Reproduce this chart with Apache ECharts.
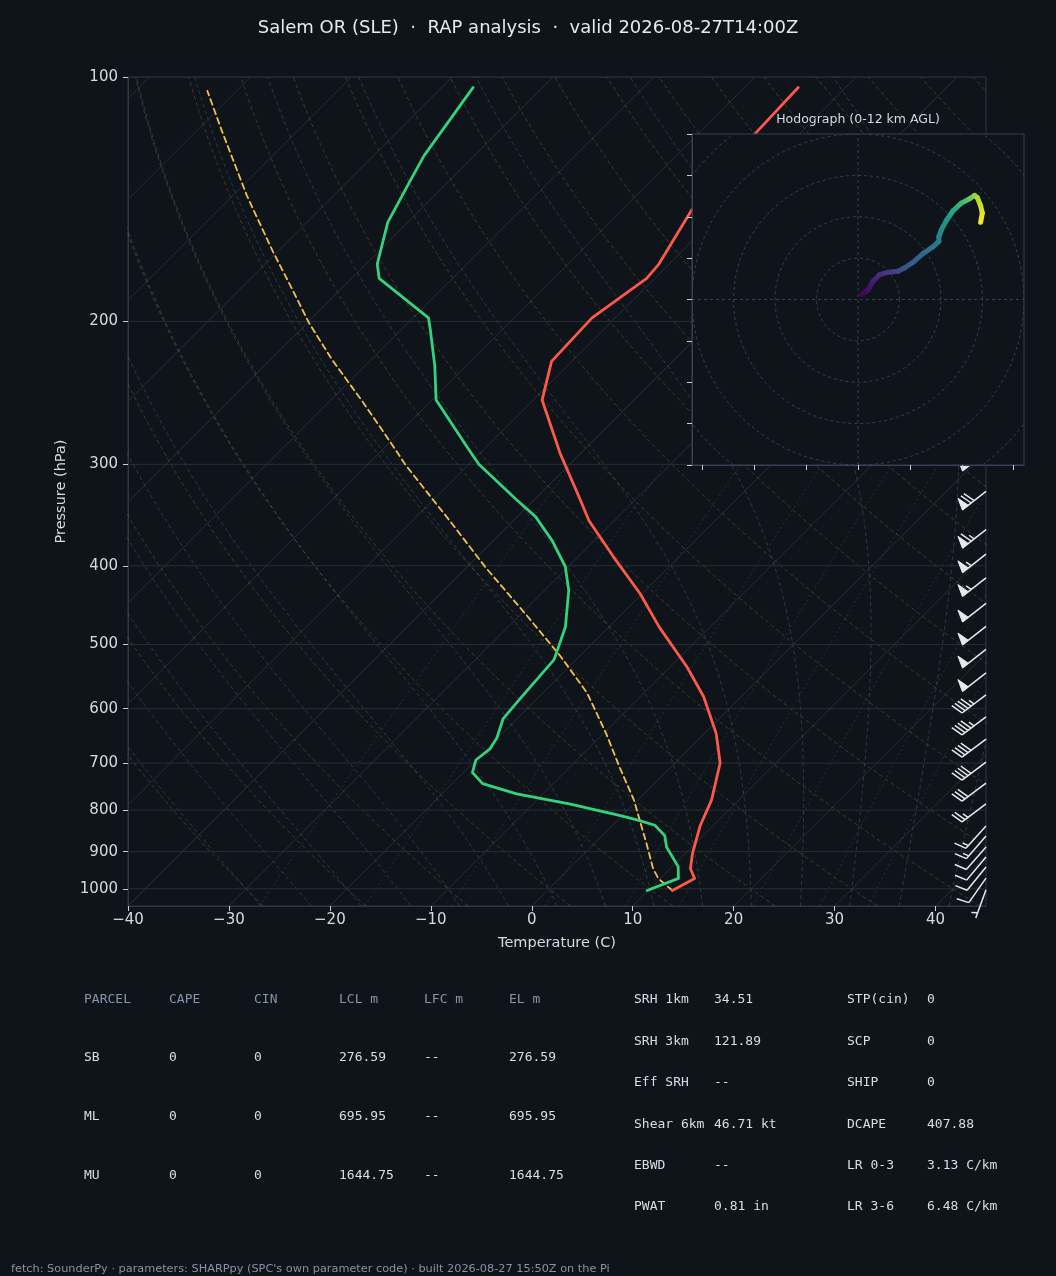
<!DOCTYPE html>
<html>
<head>
<meta charset="utf-8">
<title>Skew-T SLE</title>
<script src="https://cdn.jsdelivr.net/npm/echarts@6/dist/echarts.min.js"></script>
<style>
  html, body { margin: 0; padding: 0; background: #0f131a; }
  #chart { width: 1056px; height: 1276px; }
</style>
</head>
<body>
<div id="chart"></div>
<script>
// ---- sounding (hPa, degC) ----
const TEMP_P = [1005, 971, 944, 904, 835, 777, 700, 644, 580, 533, 476, 433, 390, 352, 332, 291, 250, 224, 198, 177, 170, 146, 130, 117, 103];
const TEMP_C = [12.4, 13.4, 12.0, 10.7, 8.7, 7.3, 4.5, 1.2, -3.7, -8.3, -15.0, -20.2, -26.5, -32.5, -35.4, -42.0, -49.1, -52.0, -52.3, -50.8, -51.0, -53.1, -53.8, -54.4, -54.7];

const DWPT_P = [1005, 971, 939, 888, 860, 835, 823, 812, 786, 764, 742, 719, 694, 673, 652, 617, 583, 522, 476, 429, 401, 373, 348, 332, 300, 286, 250, 227, 205, 198, 177, 170, 151, 135, 125, 103];
const DWPT_C = [9.9, 11.8, 10.6, 7.5, 6.2, 4.2, 2.0, -0.3, -6.4, -12.6, -17.0, -19.1, -20.0, -19.7, -20.1, -21.4, -21.7, -22.2, -24.3, -27.6, -30.3, -34.1, -38.2, -41.7, -49.0, -51.8, -59.6, -63.1, -67.1, -68.5, -77.3, -78.9, -82.0, -83.8, -85.0, -86.9];

const PARCEL_P = [1005, 971, 944, 880, 777, 709, 644, 574, 517, 459, 402, 352, 334, 301, 273, 250, 223, 201, 182, 164, 140, 116, 104];
const PARCEL_C = [12.4, 9.8, 8.3, 5.2, -0.4, -5.0, -9.7, -15.6, -21.9, -29.5, -38.1, -46.3, -49.6, -56.1, -61.8, -67.0, -73.9, -79.8, -85.0, -90.5, -98.6, -107.7, -112.9];

// wind barbs (hPa, kt, deg from)
const BARB_P = [290, 324, 361, 387, 414, 445, 475, 507, 542, 577, 614, 654, 698, 741, 786, 837, 861, 888, 914, 940, 970, 1003];
const BARB_KT = [75, 70, 65, 55, 55, 50, 50, 50, 50, 45, 45, 40, 40, 30, 25, 15, 15, 10, 10, 10, 10, 5];
const BARB_DIR = [232, 232, 232, 232, 232, 232, 232, 232, 232, 233, 233, 233, 233, 233, 233, 222, 221, 221, 220, 219, 215, 200];

// hodograph (kt, km AGL)
const HODO_U = [1.6, 4.8, 7.2, 10.4, 14.5, 19.3, 22.5, 26.5, 31.3, 36.1, 39.0, 39.0, 40.2, 42.6, 45.8, 49.8, 53.8, 56.2, 57.5, 59.1, 59.9, 59.1];
const HODO_V = [2.4, 4.5, 8.8, 12.0, 13.2, 13.7, 15.3, 18.0, 22.2, 25.4, 28.1, 30.5, 33.7, 38.2, 42.9, 46.6, 48.7, 50.3, 49.3, 45.3, 41.8, 37.3];
const HODO_Z = [0, 0.5, 1.0, 1.5, 2.0, 2.5, 3.0, 3.5, 4.0, 4.5, 4.9, 5.2, 5.6, 6.1, 7.0, 8.0, 9.0, 9.8, 10.4, 11.0, 11.5, 12.0];
const HODO_RINGS = [20, 40, 60, 80, 100];
const HODO_XTICKS = [-75, -50, -25, 0, 25, 50, 75];

// axes
const P_TICKS = [100, 200, 300, 400, 500, 600, 700, 800, 900, 1000];
const P_TOP = 100, P_BOT = 1050, T_MIN = -40, T_MAX = 45;

// parameter tables
const PARCEL_HEAD = ['PARCEL', 'CAPE', 'CIN', 'LCL m', 'LFC m', 'EL m'];
const PARCEL_ROWS = [
  ['SB', '0', '0', '276.59', '--', '276.59'],
  ['ML', '0', '0', '695.95', '--', '695.95'],
  ['MU', '0', '0', '1644.75', '--', '1644.75']
];
const INDEX_ROWS = [
  ['SRH 1km', '34.51', 'STP(cin)', '0'],
  ['SRH 3km', '121.89', 'SCP', '0'],
  ['Eff SRH', '--', 'SHIP', '0'],
  ['Shear 6km', '46.71 kt', 'DCAPE', '407.88'],
  ['EBWD', '--', 'LR 0-3', '3.13 C/km'],
  ['PWAT', '0.81 in', 'LR 3-6', '6.48 C/km']
];

const TITLE = 'Salem OR (SLE)  \u00b7  RAP analysis  \u00b7  valid 2026-08-27T14:00Z';
const FOOTER = 'fetch: SounderPy \u00b7 parameters: SHARPpy (SPC\'s own parameter code) \u00b7 built 2026-08-27 15:50Z on the Pi';

// ---- layout ----
const GRID = { left: 128, top: 77, width: 858, height: 829 };
const HGRID = { left: 692, top: 134, width: 332, height: 331 };
const BG = '#0f131a';
const TXT = '#d6dbe2';
const SANS = '"DejaVu Sans", sans-serif';
const MONO = '"DejaVu Sans Mono", monospace';

// skew so that isotherms run at 45 degrees on screen
const SKEW = (GRID.height / Math.log(P_BOT / P_TOP)) / (GRID.width / (T_MAX - T_MIN));
const pt = (t, p) => [t + SKEW * Math.log(P_BOT / p), Math.log(p)];

const chart = echarts.init(document.getElementById('chart'), null, { renderer: 'canvas' });

// background thermodynamic lines
const LEVELS = [];
for (let p = P_BOT; p >= P_TOP; p -= 10) LEVELS.push(p);

function moistRate(tk, p) {
  const es = 6.112 * Math.exp(17.67 * (tk - 273.15) / (tk - 29.65));
  const rs = 0.622 * es / (p - es);
  const Rd = 287.04, Cp = 1005.7, Lv = 2.501e6, eps = 0.622;
  return (Rd * tk + Lv * rs) / (Cp + Lv * Lv * rs * eps / (Rd * tk * tk)) / p;
}
function moistLine(t0) {
  const out = {};
  let tb = t0 + 273.15;
  for (let q = 1000; q <= P_BOT; q += 1) {
    if (q % 10 === 0) out[q] = tb - 273.15;
    const k1 = moistRate(tb, q);
    tb += moistRate(tb + k1 * 0.5, q + 0.5);
  }
  let t = t0 + 273.15;
  for (let p = 1000; p >= P_TOP; p -= 1) {
    if (p % 10 === 0) out[p] = t - 273.15;
    const k1 = moistRate(t, p);
    t -= moistRate(t - k1 * 0.5, p - 0.5);
  }
  return LEVELS.map(q => pt(out[q], q));
}

const bgSeries = [];
function bgLine(data, color, type) {
  bgSeries.push({
    type: 'line', xAxisIndex: 0, yAxisIndex: 0, data, symbol: 'none', silent: true,
    clip: true, z: 1, animation: false, lineStyle: { color, width: 1, type }
  });
}
// isotherms
for (let t = -120; t <= 40; t += 10) bgLine([pt(t, P_BOT), pt(t, P_TOP)], '#262f3a', 'solid');
// dry adiabats
for (let t0 = -30; t0 <= 200; t0 += 10) {
  bgLine(LEVELS.map(p => pt((t0 + 273.15) * Math.pow(p / 1000, 0.2857) - 273.15, p)), 'rgba(150,112,62,0.40)', [4, 3]);
}
// moist adiabats
for (let t0 = -30; t0 <= 40; t0 += 5) bgLine(moistLine(t0), 'rgba(80,130,145,0.38)', [4, 3]);
// mixing ratio lines
[0.4, 1, 2, 4, 7, 10, 16, 24, 32].forEach(w => {
  const lv = LEVELS.filter(p => p >= 300);
  bgLine(lv.map(p => {
    const e = (w / 1000) * p / (0.622 + w / 1000);
    const l = Math.log(e / 6.112);
    return pt(243.5 * l / (17.67 - l), p);
  }), 'rgba(70,120,130,0.32)', [2, 3]);
});
// pressure grid
P_TICKS.forEach(p => bgLine([[T_MIN, Math.log(p)], [T_MAX, Math.log(p)]], '#262f3a', 'solid'));

function profile(P, C, color, width, type) {
  return {
    type: 'line', xAxisIndex: 0, yAxisIndex: 0, data: P.map((p, i) => pt(C[i], p)),
    symbol: 'none', silent: true, clip: true, z: 3, animation: false, smooth: false,
    lineStyle: { color, width, type, cap: 'round', join: 'round' }
  };
}

// wind barbs, matplotlib-style (flags, full and half barbs from the far end)
function renderBarb(params, api) {
  const c = api.coord([api.value(0), api.value(1)]);
  const spd = api.value(2);
  const dir = api.value(3) * Math.PI / 180;
  const dx = Math.sin(dir), dy = -Math.cos(dir);
  const nx = -dy, ny = dx;
  const L = 30, H = 0.4 * L, W = 0.25 * L, S = 0.125 * L;
  const at = (o, h) => [c[0] + dx * o + nx * (h || 0), c[1] + dy * o + ny * (h || 0)];
  let r = Math.round(spd / 5) * 5;
  const nflag = Math.floor(r / 50); r -= nflag * 50;
  const nbarb = Math.floor(r / 10); r -= nbarb * 10;
  const half = r >= 5;
  const col = '#e6e9ee';
  const kids = [{ type: 'line', shape: { x1: c[0], y1: c[1], x2: at(L)[0], y2: at(L)[1] }, style: { stroke: col, lineWidth: 1.5 } }];
  let off = L;
  for (let i = 0; i < nflag; i++) {
    if (off !== L) off += S / 2;
    kids.push({ type: 'polygon', shape: { points: [at(off), at(off - W / 2, H), at(off - W)] }, style: { fill: col, stroke: col, lineWidth: 1 } });
    off -= W + S;
  }
  for (let i = 0; i < nbarb; i++) {
    const a = at(off), b = at(off + W / 2, H);
    kids.push({ type: 'line', shape: { x1: a[0], y1: a[1], x2: b[0], y2: b[1] }, style: { stroke: col, lineWidth: 1.5 } });
    off -= S;
  }
  if (half) {
    if (off === L) off -= 1.5 * S;
    const a = at(off), b = at(off + W / 4, H / 2);
    kids.push({ type: 'line', shape: { x1: a[0], y1: a[1], x2: b[0], y2: b[1] }, style: { stroke: col, lineWidth: 1.5 } });
  }
  return { type: 'group', children: kids };
}

// viridis for the hodograph
const VIRIDIS = ['#440154', '#472d7b', '#3b528b', '#2c728e', '#21918c', '#28ae80', '#5ec962', '#addc30', '#fde725'];
function hex(h) { return [1, 3, 5].map(i => parseInt(h.substr(i, 2), 16)); }
function viridis(f) {
  f = Math.max(0, Math.min(1, f));
  const s = f * (VIRIDIS.length - 1);
  const i = Math.min(Math.floor(s), VIRIDIS.length - 2);
  const a = hex(VIRIDIS[i]), b = hex(VIRIDIS[i + 1]), k = s - i;
  return 'rgb(' + a.map((v, j) => Math.round(v + (b[j] - v) * k)).join(',') + ')';
}
const ZMAX = 12;

const hodoSegs = HODO_U.slice(0, -1).map((u, i) => [u, HODO_V[i], HODO_U[i + 1], HODO_V[i + 1], HODO_Z[i], HODO_Z[i + 1]]);

function renderHodo(params, api) {
  const a = api.coord([api.value(0), api.value(1)]);
  const b = api.coord([api.value(2), api.value(3)]);
  const stroke = new echarts.graphic.LinearGradient(a[0], a[1], b[0], b[1], [
    { offset: 0, color: viridis(api.value(4) / ZMAX) },
    { offset: 1, color: viridis(api.value(5) / ZMAX) }
  ], true);
  return { type: 'line', shape: { x1: a[0], y1: a[1], x2: b[0], y2: b[1] }, style: { stroke, lineWidth: 5, lineCap: 'round' } };
}
function renderRing(params, api) {
  const R = api.value(0);
  const pts = [];
  for (let d = 0; d <= 360; d += 4) {
    const q = d * Math.PI / 180;
    pts.push(api.coord([R * Math.cos(q), R * Math.sin(q)]));
  }
  return { type: 'polyline', shape: { points: pts }, style: { stroke: '#354152', lineWidth: 1, lineDash: [3, 3], fill: null } };
}

// text blocks
const texts = [];
function txt(x, y, text, fill, font, align) {
  texts.push({ type: 'text', x, y, silent: true, style: { text, fill, font, align: align || 'left', verticalAlign: 'middle', textAlign: align || 'left', textVerticalAlign: 'middle' } });
}
txt(528, 28, TITLE, '#e6e9ee', '18px ' + SANS, 'center');
txt(858, 120, 'Hodograph (0-12 km AGL)', TXT, '12.5px ' + SANS, 'center');
PARCEL_HEAD.forEach((h, j) => txt(84 + 85 * j, 1000, h, '#8595aa', '13px ' + MONO));
PARCEL_ROWS.forEach((row, i) => row.forEach((v, j) => txt(84 + 85 * j, 1058 + 59 * i, v, '#d9dee5', '13px ' + MONO)));
const IX = [634, 714, 847, 927];
INDEX_ROWS.forEach((row, i) => row.forEach((v, j) => txt(IX[j], 1000 + 41.4 * i, v, '#d9dee5', '13px ' + MONO)));
txt(11, 1269, FOOTER, '#8793a3', '11.3px ' + SANS);

const tickFmt = v => (v < 0 ? '\u2212' + Math.abs(v) : String(v));

chart.setOption({
  backgroundColor: BG,
  animation: false,
  textStyle: { fontFamily: SANS },
  grid: [
    Object.assign({ show: true, borderColor: '#2e3846', borderWidth: 1, backgroundColor: 'transparent' }, GRID),
    Object.assign({ show: true, borderColor: '#364254', borderWidth: 1, backgroundColor: BG, zlevel: 1, z: 0 }, HGRID)
  ],
  xAxis: [
    {
      type: 'value', gridIndex: 0, min: T_MIN, max: T_MAX, interval: 10,
      axisLine: { show: true, onZero: false, lineStyle: { color: '#2e3846' } },
      axisTick: { show: true, length: 5, lineStyle: { color: '#c9d0d8' } },
      axisLabel: { color: TXT, fontSize: 15, fontFamily: SANS, margin: 7, formatter: tickFmt, showMaxLabel: false },
      splitLine: { show: false },
      name: 'Temperature (C)', nameLocation: 'middle', nameGap: 30,
      nameTextStyle: { color: TXT, fontSize: 14.5, fontFamily: SANS }
    },
    {
      type: 'value', gridIndex: 1, min: -80, max: 80, zlevel: 1, z: 1,
      axisLine: { show: true, onZero: false, lineStyle: { color: '#364254' } },
      axisTick: { show: true, length: 5, customValues: HODO_XTICKS, lineStyle: { color: '#c9d0d8' } },
      axisLabel: { show: false },
      splitLine: { show: false }
    }
  ],
  yAxis: [
    {
      type: 'value', gridIndex: 0, min: Math.log(P_TOP), max: Math.log(P_BOT), inverse: true,
      axisLine: { show: true, onZero: false, lineStyle: { color: '#2e3846' } },
      axisTick: { show: true, length: 5, customValues: P_TICKS.map(p => Math.log(p)), lineStyle: { color: '#c9d0d8' } },
      axisLabel: {
        color: TXT, fontSize: 15, fontFamily: SANS, margin: 10,
        customValues: P_TICKS.map(p => Math.log(p)),
        formatter: v => String(Math.round(Math.exp(v)))
      },
      splitLine: { show: false },
      name: 'Pressure (hPa)', nameLocation: 'middle', nameGap: 58, nameRotate: 90,
      nameTextStyle: { color: TXT, fontSize: 14.5, fontFamily: SANS }
    },
    {
      type: 'value', gridIndex: 1, min: -80, max: 80, interval: 20, zlevel: 1, z: 1,
      axisLine: { show: true, onZero: false, lineStyle: { color: '#364254' } },
      axisTick: { show: true, length: 5, lineStyle: { color: '#c9d0d8' } },
      axisLabel: { show: false },
      splitLine: { show: false }
    }
  ],
  series: bgSeries.concat([
    profile(PARCEL_P, PARCEL_C, '#f2c14e', 1.8, [6, 4]),
    profile(DWPT_P, DWPT_C, '#34d27c', 2.8, 'solid'),
    profile(TEMP_P, TEMP_C, '#fb5a4b', 2.8, 'solid'),
    {
      type: 'custom', xAxisIndex: 0, yAxisIndex: 0, z: 4, silent: true, clip: false,
      encode: { x: 0, y: 1 },
      data: BARB_P.map((p, i) => [T_MAX, Math.log(p), BARB_KT[i], BARB_DIR[i]]),
      renderItem: renderBarb
    },
    {
      type: 'custom', xAxisIndex: 1, yAxisIndex: 1, zlevel: 1, z: 2, silent: true, clip: true,
      encode: { x: 0, y: 0 },
      data: HODO_RINGS.map(r => [r]),
      renderItem: renderRing
    },
    {
      type: 'line', xAxisIndex: 1, yAxisIndex: 1, zlevel: 1, z: 2, silent: true, symbol: 'none',
      data: [[-80, 0], [80, 0]], lineStyle: { color: '#354152', width: 1, type: [3, 3] }
    },
    {
      type: 'line', xAxisIndex: 1, yAxisIndex: 1, zlevel: 1, z: 2, silent: true, symbol: 'none',
      data: [[0, -80], [0, 80]], lineStyle: { color: '#354152', width: 1, type: [3, 3] }
    },
    {
      type: 'custom', xAxisIndex: 1, yAxisIndex: 1, zlevel: 1, z: 3, silent: true, clip: true,
      encode: { x: [0, 2], y: [1, 3] },
      data: hodoSegs,
      renderItem: renderHodo
    }
  ]),
  graphic: { elements: texts }
});
</script>
</body>
</html>
